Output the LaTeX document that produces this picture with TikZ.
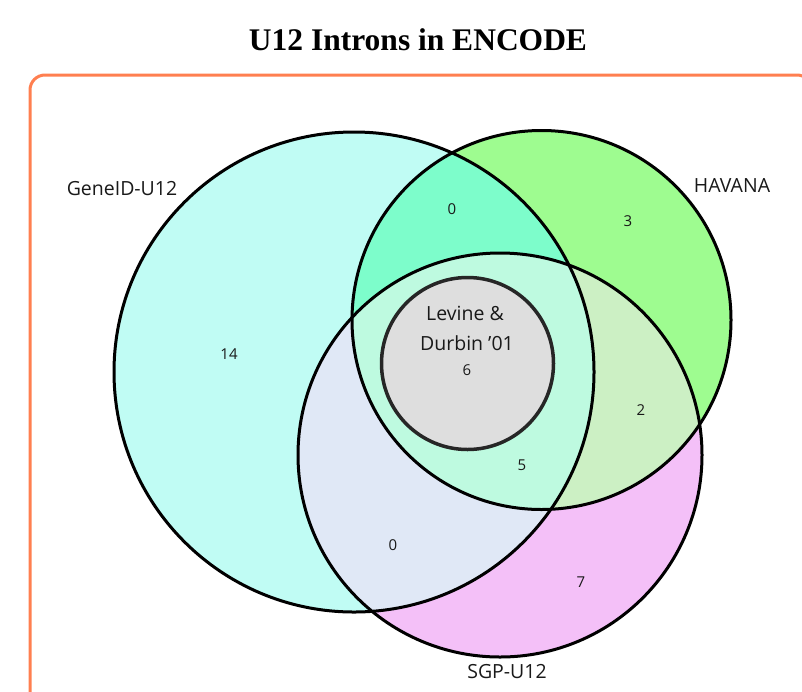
\documentclass[tikz,border=0pt]{standalone}
\usepackage{fontspec}
\setmainfont{Liberation Serif}
\newfontfamily\labfont{Open Sans}
\definecolor{cyanF}{RGB}{192,252,244}
\definecolor{greenF}{RGB}{158,252,144}
\definecolor{magF}{RGB}{244,192,248}
\definecolor{cgF}{RGB}{125,253,203}
\definecolor{cmF}{RGB}{224,232,246}
\definecolor{gmF}{RGB}{204,240,196}
\definecolor{cgmF}{RGB}{190,250,224}
\definecolor{grayF}{RGB}{222,222,222}
\definecolor{frameC}{RGB}{255,127,80}
\tikzset{
  ring/.style={draw=black, line width=3pt},
  setlabel/.style={font=\labfont\fontsize{19.5}{22}\selectfont, text=black!90, inner sep=0pt},
  count/.style={font=\labfont\fontsize{15}{17}\selectfont, text=black!90, inner sep=0pt},
}
\begin{document}
\begin{tikzpicture}[x=1pt,y=-1pt]
\useasboundingbox (0,0) rectangle (802,691);
\begin{scope}
\clip (0,0) rectangle (802,691);
\draw[frameC, line width=3pt, rounded corners=15pt] (30,75) rectangle (812,720);
\end{scope}
\node[font=\bfseries\fontsize{31.5}{36}\selectfont, inner sep=0pt] (title) at (418,40) {U12 Introns in ENCODE};
% centres
\coordinate (C) at (354,372);
\coordinate (G) at (541.5,320);
\coordinate (M) at (500,455);
\coordinate (L) at (467.5,363.5);
% base fills
\fill[cyanF] (C) circle (240);
\fill[greenF] (G) circle (189.5);
\fill[magF] (M) circle (202);
\begin{scope}
\clip (C) circle (240);
\fill[cgF] (G) circle (189.5);
\fill[cmF] (M) circle (202);
\end{scope}
\begin{scope}
\clip (G) circle (189.5);
\fill[gmF] (M) circle (202);
\clip (M) circle (202);
\fill[cgmF] (C) circle (240);
\end{scope}
% outlines
\draw[ring] (C) circle (240);
\draw[ring] (G) circle (189.5);
\draw[ring] (M) circle (202);
% inner circle
\draw[fill=grayF, draw=black!85, line width=3.5pt] (L) circle (86);
% set labels
\node[setlabel] (lc) at (122,189) {GeneID-U12};
\node[setlabel] (lg) at (732,186) {HAVANA};
\node[setlabel] (lm) at (507,672) {SGP-U12};
\node[setlabel] (ll1) at (465,313) {Levine \&};
\node[setlabel] (ll2) at (467,343) {Durbin ’01};
% counts
\node[count] (n6) at (467,370) {6};
\node[count] (n0a) at (452,209) {0};
\node[count] (n3) at (628,221) {3};
\node[count] (n14) at (229,354) {14};
\node[count] (n2) at (641,410) {2};
\node[count] (n5) at (522,465) {5};
\node[count] (n0b) at (393,545) {0};
\node[count] (n7) at (581,582) {7};
\end{tikzpicture}
\end{document}
